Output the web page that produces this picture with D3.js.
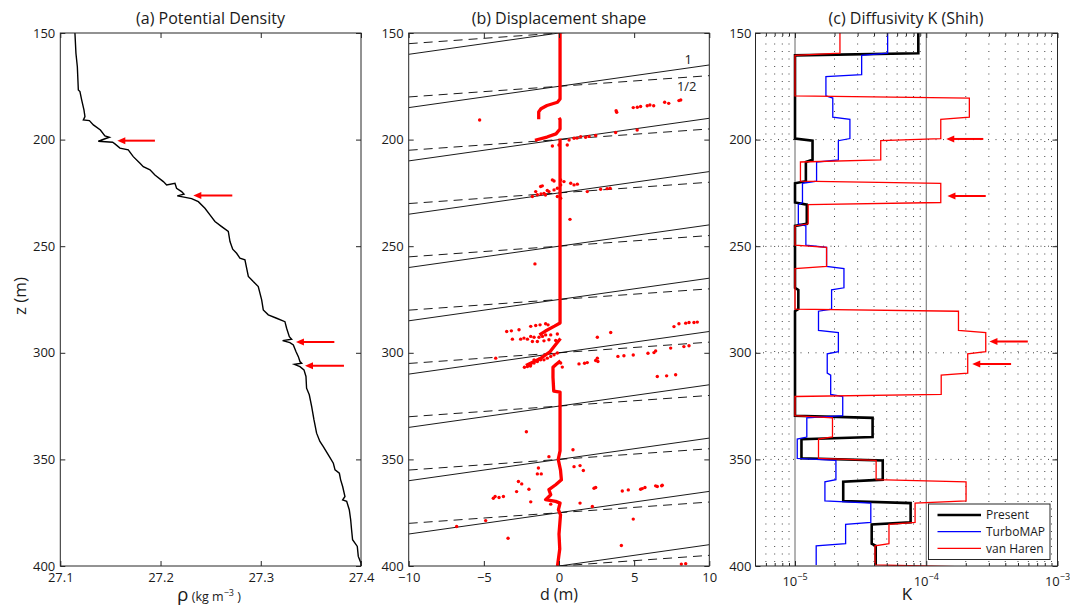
<!DOCTYPE html>
<html><head><meta charset="utf-8">
<script src="https://cdn.jsdelivr.net/npm/d3@7"></script>
<style>
html,body{margin:0;padding:0;background:#fff;}
svg{display:block;font-family:"Open Sans",sans-serif;}
</style></head>
<body><svg id="c" width="1070" height="608"></svg>
<script>
// ---------- DATA ----------
const depthTicks = [150, 200, 250, 300, 350, 400];
const rhoTicks = [27.1, 27.2, 27.3, 27.4];
const dTicks = [-10, -5, 0, 5, 10];
const kMajorTicks = [1e-5, 1e-4, 1e-3];
const kMinorTicks = [6e-6,7e-6,8e-6,9e-6,2e-5,3e-5,4e-5,5e-5,6e-5,7e-5,8e-5,9e-5,2e-4,3e-4,4e-4,5e-4,6e-4,7e-4,8e-4,9e-4];

// (a) potential density profile [rho, z]
const density = [
[27.1146,150],[27.1156,159.5],[27.117,165.8],[27.118,176.7],[27.1196,177.5],[27.1213,181.4],[27.1236,186.1],
[27.1246,189.2],[27.123,190.8],[27.129,191.1],[27.133,193.1],[27.14,195.5],[27.1445,198.3],[27.1489,198.9],
[27.1412,200.2],[27.1379,200.8],[27.1522,201.25],[27.1545,202],[27.1595,204],[27.1678,204.8],[27.1728,208],
[27.1795,211.1],[27.1828,212.7],[27.1895,214.2],[27.1944,216.6],[27.2028,219.7],[27.2061,221.25],[27.2144,220.5],
[27.216,222.8],[27.221,224.4],[27.2234,225.6],[27.2167,226.4],[27.2234,227],[27.231,227.7],[27.2377,229.1],
[27.2443,232.2],[27.2493,235.3],[27.2543,238.4],[27.261,240.8],[27.2676,243.1],[27.2693,247.8],[27.272,251.4],
[27.2759,253.3],[27.2792,255.6],[27.2842,256.4],[27.2876,264.2],[27.2925,266.6],[27.2975,268.9],[27.3009,275.2],
[27.3025,279.9],[27.3075,282.2],[27.3158,283.8],[27.3241,285.4],[27.3258,288.5],[27.3285,292.4],[27.3308,293.6],
[27.3218,294.3],[27.3291,295.2],[27.3325,296.3],[27.3351,299.4],[27.3375,301.8],[27.3391,304.1],[27.3408,304.9],
[27.3335,305.4],[27.3391,306.5],[27.3431,308],[27.3451,311.1],[27.3457,316.6],[27.3484,319.7],[27.3508,325.2],
[27.3531,331.5],[27.3557,337.7],[27.359,341.6],[27.3624,344],[27.3674,347.9],[27.3724,351.8],[27.3741,354.9],
[27.3784,356.5],[27.3797,359.6],[27.3817,362.7],[27.384,367.4],[27.3817,369],[27.3857,369.7],[27.3883,373.6],
[27.3897,378.3],[27.3906,383],[27.3916,387.7],[27.394,389.3],[27.3963,390.8],[27.3973,395.5],[27.3999,398.6],[27.4,400]
];
// arrows [tail, head, z]
const arrowsA = [[27.1944,27.1569,200.5],[27.2716,27.2327,226.2],[27.3734,27.3351,294.9],[27.383,27.3441,306.1]];

// (b) displacement shape
const crossDepths = [150,175,200,225,250,275,300,325,350,375,400];
const slopes = [1, 0.5];           // solid = 1, dashed = 1/2
const slopeLabels = [["1", 8.6, 162.3], ["1/2", 8.5, 175.2]];
const profile = [
[0.07,150],[0.07,181],[-0.1,182.5],[-0.8,184],[-1.2,185.5],[-1.35,187],[-1.35,190.5],null,
[0.0,189.8],[0.07,190.5],[0.07,195],[-0.2,197.3],[-0.8,198.8],[-1.6,200.3],null,
[0.07,199.5],[0.07,286],[-0.3,287.5],[-0.9,289.8],[-1.3,291.6],null,
[0.1,293.3],[-0.3,296.8],[-0.6,299.5],[-1.2,302.5],[-2.2,306],null,
[0.1,303.8],[-0.2,305.5],[-0.4,306.8],[-0.4,311.5],[-0.35,318],[0.07,318.4],[0.07,346],[-0.05,350],[0.1,355],
[0.16,359.6],[-0.22,361.9],[-0.67,364.2],[-0.55,366.6],[-0.89,368.9],[-0.22,369.7],[0.07,370.5],[-0.04,373.6],
[0.1,376],[0.0,385],[0.05,392],[-0.1,400]
];
const scatter = [
[-5.28,190.8],[3.84,187.2],[3.8,186.5],[4.94,185],[5.21,184.8],[5.43,184.5],[5.87,184.1],[6.05,183.8],[6.3,184.1],
[7.03,182.5],[7.3,183],[7.98,181.7],[8.1,181.4],[5.2,195.5],[3.77,196.7],
[0.67,200.2],[1.0,199.4],[1.44,198.6],[1.77,198.9],[2.44,198.1],[0.55,202.5],[-0.44,203],[0.0,202.5],[1.2,199.3],[2.0,198.5],
[-1.22,222],[-1.11,221.7],[-1.77,226.7],[-1.44,225.9],[-1.0,225.2],[-0.67,224.4],[-0.33,223.6],[-0.11,222.8],
[0.11,221.25],[0.33,219.7],[-0.33,219.4],[0.11,218.9],[0.78,220.5],[1.0,221.25],[1.22,220.9],[-0.11,226.7],
[0.11,227.5],[-1.55,224.4],[-0.78,223.9],[-0.44,218.9],[1.88,224.4],[2.77,223.3],[3.2,223],[3.4,222.8],[-1.2,225.5],[-0.9,226],
[0.73,237.4],[-1.6,258.3],
[-3.48,290],[-3.17,289.7],[-2.66,289.2],[-1.88,287.6],[-1.55,287.2],[-1.26,286.9],[-0.89,286.4],[-0.73,286.9],
[-3.1,293.6],[-2.55,293.6],[-2.33,293.1],[-2.1,293.6],[-1.88,292.3],[-1.66,292.7],[-1.33,292.7],[-1.1,292.3],
[-0.89,291.6],[-0.55,291.6],[-0.11,291.2],[-1.77,294.7],[-1.44,294.7],[-1.0,294.4],[-0.67,293.9],[-0.22,294.2],
[2.55,292.7],[3.44,290.5],[7.65,287.7],[7.98,286.4],[8.43,286.1],[8.65,285.8],[8.98,285.8],[9.2,285.6],
[-4.21,302.5],[8.31,297.1],[8.65,296.7],[7.43,297.8],[6.43,299.1],[6.32,299.9],[5.92,300.2],[4.94,301],[4.32,301.4],
[3.92,301.7],[2.55,302.5],[2.59,304.1],[2.44,303.6],[1.88,304.6],[1.7,304.9],[1.33,305.2],[0.11,304.8],[0.22,306.7],
[6.54,311.1],[7.16,310.8],[7.76,310.3],
[-2.1,306.4],[-1.88,305.6],[-1.66,304.8],[-1.44,304.1],[-1.22,303.3],[-1.0,303.3],[-0.78,302.5],[-0.55,301.7],
[-0.33,300.9],[-0.11,300.1],[-1.66,303.3],[-1.33,303],[-2.3,306.8],[-1.9,306.2],
[-2.17,337],[0.93,345.5],[-0.67,348.7],[1.0,353.4],[1.4,352.9],[1.62,355.2],[-1.44,356.8],[-1.18,356.8],[-1.37,354],
[-2.7,360.4],[-2.48,361.5],[-2.82,365.1],[-2.0,364],[-1.88,369.9],[-4.37,368.2],[-4.25,367.4],[-3.99,367.9],[-3.7,367.4],
[-0.55,371],[1.4,370.5],[2.22,372.1],[2.33,363.5],[2.44,363.2],[4.21,364.8],[4.61,364.3],[5.43,364],[5.54,363.7],
[5.72,363.2],[6.43,362.4],[6.54,362.7],[6.83,362.4],[6.87,362.1],[4.94,378],[-4.88,378.7],[-6.81,381.5],[-3.39,387],
[4.15,390.4],[8.14,399.1],[8.43,398.9]
];

// (c) diffusivity in 10 m bins starting at 150 m
const binTop = 150, binSize = 10;
const present = [8.7e-5,1e-5,1e-5,1e-5,1e-5,1.36e-5,1.21e-5,1e-5,1.23e-5,1e-5,1e-5,1e-5,1.06e-5,1e-5,1e-5,1e-5,1e-5,1e-5,3.9e-5,1.12e-5,4.66e-5,2.33e-5,7.6e-5,3.84e-5,4.12e-5];
const turboMAP = [5.08e-5,3.22e-5,1.72e-5,1.94e-5,2.62e-5,2.14e-5,1.46e-5,1.14e-5,1.06e-5,1.21e-5,1.74e-5,2.36e-5,1.9e-5,1.51e-5,2.14e-5,1.76e-5,1.87e-5,2.31e-5,1.23e-5,1.04e-5,2.05e-5,1.69e-5,3.78e-5,2.43e-5,1.45e-5];
const vanHaren = [2.2e-5,1e-5,1e-5,2.13e-4,1.29e-4,4.5e-5,1.1e-5,1.29e-4,1.26e-5,1e-5,1.74e-5,1e-5,1e-5,1.76e-4,2.84e-4,2.07e-4,1.3e-4,1e-5,1.93e-5,1.51e-5,4.15e-5,2.01e-4,8.22e-5,5.2e-5,4.07e-5,2.35e-4];
const seriesNames = ["Present", "TurboMAP", "van Haren"];
const arrowsC = [[2.72e-4,1.42e-4,199.7],[2.84e-4,1.45e-4,226.4],[5.94e-4,3.03e-4,294.7],[4.43e-4,2.24e-4,305.2]];

// ---------- LAYOUT ----------
const svg = d3.select("#c");
const yTop = 33, yBot = 566;
const y = d3.scaleLinear([150, 400], [yTop, yBot]);
const xa = d3.scaleLinear([27.1, 27.4], [60.3, 361]);
const xb = d3.scaleLinear([-10, 10], [408.7, 709.3]);
const xc = d3.scaleLog([5e-6, 1e-3], [755.5, 1057.5]);
const axisColor = "#262626";
const txt = "#1a1a1a";

function clip(id, x) {
  svg.append("clipPath").attr("id", id).append("rect")
    .attr("x", x.range()[0]).attr("y", yTop)
    .attr("width", x.range()[1] - x.range()[0]).attr("height", yBot - yTop);
}
clip("ca", xa); clip("cb", xb); clip("cc", xc);

function frame(x, xTicks, xFormat, title, titleX) {
  const [x0, x1] = x.range();
  const g = svg.append("g");
  g.append("g").attr("transform", `translate(${x0},0)`)
    .call(d3.axisLeft(y).tickValues(depthTicks).tickSizeInner(-5).tickSizeOuter(0).tickPadding(5));
  g.append("g").attr("transform", `translate(${x1},0)`)
    .call(d3.axisRight(y).tickValues(depthTicks).tickSizeInner(-5).tickSizeOuter(0).tickFormat(""));
  g.append("g").attr("transform", `translate(0,${yBot})`)
    .call(d3.axisBottom(x).tickValues(xTicks).tickSizeInner(-5).tickSizeOuter(0).tickPadding(7).tickFormat(xFormat));
  g.append("g").attr("transform", `translate(0,${yTop})`)
    .call(d3.axisTop(x).tickValues(xTicks).tickSizeInner(-5).tickSizeOuter(0).tickFormat(""));
  g.selectAll(".domain").remove();
  g.selectAll(".tick line").attr("stroke", axisColor);
  g.selectAll("text").attr("font-size", 13).attr("fill", txt).attr("font-family", '"Open Sans",sans-serif');
  g.append("rect").attr("x", x0).attr("y", yTop).attr("width", x1 - x0).attr("height", yBot - yTop)
    .attr("fill", "none").attr("stroke", axisColor).attr("stroke-width", 1);
  svg.append("text").attr("x", titleX).attr("y", 24).attr("text-anchor", "middle")
    .attr("font-size", 16).attr("fill", txt).text(title);
  return g;
}

function arrow(g, x, a) {
  const [t, h, z] = a;
  const xt = x(t), xh = x(h), yy = y(z);
  g.append("line").attr("x1", xt).attr("x2", xh + 6).attr("y1", yy).attr("y2", yy)
    .attr("stroke", "#ff0000").attr("stroke-width", 2);
  g.append("path").attr("d", `M${xh},${yy}L${xh + 8},${yy - 3.5}L${xh + 8},${yy + 3.5}Z`).attr("fill", "#ff0000");
}

// ---------- PANEL A ----------
const ga = svg.append("g");
ga.append("path").datum(density)
  .attr("d", d3.line().x(d => xa(d[0])).y(d => y(d[1])))
  .attr("fill", "none").attr("stroke", "#000").attr("stroke-width", 1.4).attr("clip-path", "url(#ca)");
arrowsA.forEach(a => arrow(ga, xa, a));
frame(xa, rhoTicks, d3.format(".1f"), "(a) Potential Density", 210.5);
svg.append("text").attr("transform", "translate(26,296) rotate(-90)").attr("text-anchor", "middle")
  .attr("font-size", 17).attr("fill", txt).text("z (m)");
const xla = svg.append("text").attr("x", 209).attr("y", 601).attr("text-anchor", "middle").attr("fill", txt);
xla.append("tspan").attr("font-size", 19).text("ρ");
xla.append("tspan").attr("font-size", 12.5).text(" (kg m");
xla.append("tspan").attr("font-size", 9).attr("dy", -5.5).text("−3");
xla.append("tspan").attr("font-size", 12.5).attr("dy", 5.5).text(" )");

// ---------- PANEL B ----------
const gb = svg.append("g").attr("clip-path", "url(#cb)");
const dEnds = xb.domain();
crossDepths.forEach(z0 => {
  slopes.forEach(s => {
    const pts = dEnds.map(d => [d, z0 - s * d]);
    gb.append("path").datum(pts)
      .attr("d", d3.line().x(p => xb(p[0])).y(p => y(p[1])))
      .attr("fill", "none").attr("stroke", "#000").attr("stroke-width", 0.9)
      .attr("stroke-dasharray", s === 1 ? null : "9,6");
  });
});
gb.append("path").datum(profile)
  .attr("d", d3.line().defined(p => p).x(p => xb(p[0])).y(p => y(p[1])))
  .attr("fill", "none").attr("stroke", "#ff0000").attr("stroke-width", 3.3).attr("stroke-linejoin", "round");
gb.selectAll("circle.s").data(scatter).join("circle")
  .attr("cx", p => xb(p[0])).attr("cy", p => y(p[1])).attr("r", 1.7).attr("fill", "#ff0000");
svg.selectAll("text.sl").data(slopeLabels).join("text")
  .attr("x", p => xb(p[1])).attr("y", p => y(p[2]) + 4.5).attr("text-anchor", "middle")
  .attr("font-size", 13).attr("fill", txt).text(p => p[0]);
frame(xb, dTicks, d3.format("d"), "(b) Displacement shape", 559);
svg.append("text").attr("x", 559).attr("y", 600).attr("text-anchor", "middle")
  .attr("font-size", 16).attr("fill", txt).text("d (m)");

// ---------- PANEL C ----------
const gc = svg.append("g").attr("clip-path", "url(#cc)");
kMinorTicks.forEach(k => {
  gc.append("line").attr("x1", xc(k)).attr("x2", xc(k)).attr("y1", yTop + 3).attr("y2", yBot)
    .attr("stroke", "#444").attr("stroke-width", 1).attr("stroke-dasharray", "1,6.5");
});
kMajorTicks.slice(0, 2).forEach(k => {
  gc.append("line").attr("x1", xc(k)).attr("x2", xc(k)).attr("y1", yTop).attr("y2", yBot)
    .attr("stroke", "#555").attr("stroke-width", 0.9);
});
depthTicks.slice(1, -1).forEach(z => {
  gc.append("line").attr("x1", xc.range()[0]).attr("x2", xc.range()[1]).attr("y1", y(z)).attr("y2", y(z))
    .attr("stroke", "#444").attr("stroke-width", 1).attr("stroke-dasharray", "1,6.5");
});
function steps(vals) {
  const pts = [];
  vals.forEach((v, i) => {
    const e = binTop + i * binSize;
    pts.push([v, i === 0 ? e : e + 0.5]);
    pts.push([v, e + binSize - 0.5]);
  });
  return pts;
}
const series = [
  {name: seriesNames[0], vals: present, color: "#000", w: 2.6},
  {name: seriesNames[1], vals: turboMAP, color: "#0000ff", w: 1.3},
  {name: seriesNames[2], vals: vanHaren, color: "#ff0000", w: 1.3}
];
series.forEach(s => {
  gc.append("path").datum(steps(s.vals))
    .attr("d", d3.line().x(p => xc(p[0])).y(p => y(p[1])))
    .attr("fill", "none").attr("stroke", s.color).attr("stroke-width", s.w);
});
arrowsC.forEach(a => arrow(svg.append("g"), xc, a));
{
  const [x0, x1] = xc.range();
  const g = svg.append("g");
  g.append("g").attr("transform", `translate(${x0},0)`)
    .call(d3.axisLeft(y).tickValues(depthTicks).tickSizeInner(-5).tickSizeOuter(0).tickPadding(4));
  g.append("g").attr("transform", `translate(${x1},0)`)
    .call(d3.axisRight(y).tickValues(depthTicks).tickSizeInner(-5).tickSizeOuter(0).tickFormat(""));
  g.append("g").attr("transform", `translate(0,${yBot})`)
    .call(d3.axisBottom(xc).tickValues(kMajorTicks).tickSizeInner(-5).tickSizeOuter(0).tickFormat(""));
  g.append("g").attr("transform", `translate(0,${yBot})`)
    .call(d3.axisBottom(xc).tickValues(kMinorTicks).tickSizeInner(-3).tickSizeOuter(0).tickFormat(""));
  g.append("g").attr("transform", `translate(0,${yTop})`)
    .call(d3.axisTop(xc).tickValues(kMajorTicks).tickSizeInner(-5).tickSizeOuter(0).tickFormat(""));
  g.append("g").attr("transform", `translate(0,${yTop})`)
    .call(d3.axisTop(xc).tickValues(kMinorTicks).tickSizeInner(-3).tickSizeOuter(0).tickFormat(""));
  g.selectAll(".domain").remove();
  g.selectAll(".tick line").attr("stroke", axisColor);
  g.selectAll("text").attr("font-size", 13).attr("fill", txt).attr("font-family", '"Open Sans",sans-serif');
  g.append("rect").attr("x", x0).attr("y", yTop).attr("width", x1 - x0).attr("height", yBot - yTop)
    .attr("fill", "none").attr("stroke", axisColor);
  kMajorTicks.forEach(k => {
    const t = g.append("text").attr("x", xc(k)).attr("y", 586).attr("text-anchor", "middle")
      .attr("font-size", 13).attr("fill", txt);
    t.append("tspan").text("10");
    t.append("tspan").attr("font-size", 9).attr("dy", -6).text("−" + Math.round(-Math.log10(k)));
  });
  svg.append("text").attr("x", 906).attr("y", 24).attr("text-anchor", "middle")
    .attr("font-size", 16).attr("fill", txt).text("(c) Diffusivity K (Shih)");
  svg.append("text").attr("x", 907).attr("y", 600).attr("text-anchor", "middle")
    .attr("font-size", 17).attr("fill", txt).text("K");
  const lg = svg.append("g").attr("transform", "translate(928.5,504)");
  lg.append("rect").attr("width", 121.5).attr("height", 55.5).attr("fill", "#fff").attr("stroke", axisColor);
  series.forEach((s, i) => {
    const yy = 11 + i * 16.7;
    lg.append("line").attr("x1", 9).attr("x2", 52.5).attr("y1", yy).attr("y2", yy)
      .attr("stroke", s.color).attr("stroke-width", s.w);
    lg.append("text").attr("x", 57.5).attr("y", yy + 4.3).attr("font-size", 12).attr("fill", txt).text(s.name);
  });
}
</script></body></html>
